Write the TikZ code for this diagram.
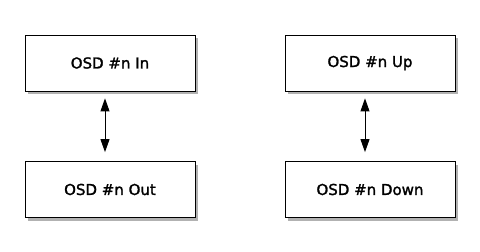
\documentclass[tikz,border=0pt]{standalone}
\usepackage{fontspec}
\setmainfont{DejaVu Sans}
\newfontfamily\osdfont[FakeBold=1.6]{DejaVu Sans}
\usetikzlibrary{arrows.meta}
\begin{document}
\begin{tikzpicture}[x=1pt,y=-1pt,
  osdbox/.style={draw=black,line width=0.8pt,fill=white,minimum width=170pt,minimum height=56pt,inner sep=0pt,
    font=\osdfont\fontsize{15}{18}\selectfont,
    preaction={fill=black!30,transform canvas={xshift=3pt,yshift=-3pt}}},
  dblarr/.style={{Triangle[width=9pt,length=13pt]}-{Triangle[width=9pt,length=13pt]},line width=0.9pt}]
\useasboundingbox[fill=white] (0,0) rectangle (480,252);
\node[osdbox] (in) at (110,63) {OSD \#n In};
\node[osdbox] (out) at (110,189.5) {OSD \#n Out};
\node[osdbox] (up) at (370,63) {OSD \#n Up};
\node[osdbox] (down) at (370,189.5) {OSD \#n Down};
\draw[dblarr] ([xshift=-5pt,yshift=-7pt]in.south) -- ([xshift=-5pt,yshift=9pt]out.north);
\draw[dblarr] ([xshift=-5pt,yshift=-7pt]up.south) -- ([xshift=-5pt,yshift=9pt]down.north);
\end{tikzpicture}
\end{document}
